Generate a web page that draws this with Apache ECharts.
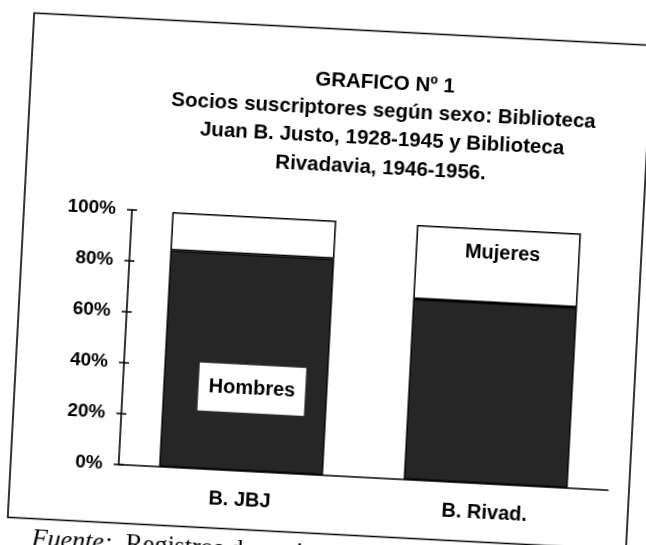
<!DOCTYPE html>
<html>
<head>
<meta charset="utf-8">
<title>GRAFICO Nº 1</title>
<script src="https://cdn.jsdelivr.net/npm/echarts@6/dist/echarts.min.js"></script>
<style>
	html, body { margin: 0; padding: 0; background: #fff; }
	#wrap { position: relative; width: 646px; height: 545px; overflow: hidden; background: #fff; }
	/* the scanned page is tilted a little clockwise */
	#grafico1 { position: absolute; left: 0; top: 0; width: 646px; height: 600px;
		transform: rotate(3deg); transform-origin: 323px 272.5px; }
</style>
</head>
<body>
<div id="wrap"><div id="grafico1"></div></div>
<script>
var categories = ['B. JBJ', 'B. Rivad.'];
var hombres = [85, 71];
var mujeres = [15, 29];
var yTicks = [0, 20, 40, 60, 80, 100];
var titleLines = [
	'GRAFICO Nº 1',
	'Socios suscriptores según sexo: Biblioteca',
	'Juan B. Justo, 1928-1945 y Biblioteca',
	'Rivadavia, 1946-1956.'
];

var fuente = 'Liberation Sans, Arial, sans-serif';

function tickLabel(v) {
	return yTicks.indexOf(v) >= 0 ? v + '%' : '';
}

var option = {
	animation: false,
	backgroundColor: '#fff',
	title: {
		text: titleLines.join('\n'),
		left: 370,
		top: 61,
		textAlign: 'center',
		textStyle: {
			fontFamily: fuente,
			fontSize: 20.5,
			fontWeight: 'bold',
			lineHeight: 28.3,
			color: '#000'
		}
	},
	graphic: [
		{
			type: 'rect',
			shape: {x: 21, y: 28.5, width: 619, height: 505},
			style: {fill: 'none', stroke: '#000', lineWidth: 1.6}
		},
		{
			type: 'text',
			left: 46,
			top: 541,
			style: {text: 'Fuente:', font: 'italic 26px "Liberation Serif", "Times New Roman", serif', fill: '#000'}
		},
		{
			type: 'text',
			left: 140,
			top: 541,
			style: {text: 'Registros de socios', font: '26px "Liberation Serif", "Times New Roman", serif', fill: '#000'}
		}
	],
	grid: {left: 129, right: 27, top: 220, bottom: 125},
	xAxis: [
		{
			type: 'category',
			data: categories,
			axisLine: {lineStyle: {color: '#000', width: 1.6}},
			axisTick: {length: 5, lineStyle: {color: '#000', width: 1.5}},
			axisLabel: {margin: 19, color: '#000', fontFamily: fuente, fontSize: 20, fontWeight: 'bold'}
		},
		{
			type: 'category',
			data: categories,
			position: 'bottom',
			axisLine: {show: false},
			axisTick: {inside: true, length: 5, lineStyle: {color: '#000', width: 1.5}},
			axisLabel: {show: false}
		}
	],
	yAxis: [
		{
			type: 'value',
			min: 0,
			max: 100,
			interval: 20,
			axisLine: {show: true, lineStyle: {color: '#000', width: 1.6}},
			axisTick: {show: true, length: 5, lineStyle: {color: '#000', width: 1.5}},
			splitLine: {show: false},
			axisLabel: {margin: 16, color: '#000', fontFamily: fuente, fontSize: 19, fontWeight: 'bold', formatter: tickLabel}
		},
		{
			type: 'value',
			min: 0,
			max: 100,
			interval: 20,
			position: 'left',
			axisLine: {show: false},
			axisTick: {show: true, inside: true, length: 5, lineStyle: {color: '#000', width: 1.5}},
			splitLine: {show: false},
			axisLabel: {show: false}
		}
	],
	series: [
		{
			name: 'Hombres',
			type: 'bar',
			stack: 'sexo',
			barWidth: '67%',
			itemStyle: {color: '#262626', borderColor: '#000', borderWidth: 1.5},
			label: {
				position: ['54%', '62%'],
				align: 'center',
				verticalAlign: 'middle',
				formatter: '{a}',
				color: '#000',
				fontFamily: fuente,
				fontSize: 20,
				fontWeight: 'bold',
				lineHeight: 22,
				backgroundColor: '#fff',
				padding: [13, 10, 13, 10]
			},
			data: hombres.map(function (v, i) {
				return {value: v, label: {show: i === 0}};
			})
		},
		{
			name: 'Mujeres',
			type: 'bar',
			stack: 'sexo',
			itemStyle: {color: '#fff', borderColor: '#000', borderWidth: 1.5},
			label: {
				position: ['53%', '33%'],
				align: 'center',
				verticalAlign: 'middle',
				formatter: '{a}',
				color: '#000',
				fontFamily: fuente,
				fontSize: 20,
				fontWeight: 'bold'
			},
			data: mujeres.map(function (v, i) {
				return {value: v, label: {show: i === 1}};
			})
		}
	]
};

var myChart = echarts.init(document.getElementById('grafico1'));
myChart.setOption(option);
</script>
</body>
</html>
